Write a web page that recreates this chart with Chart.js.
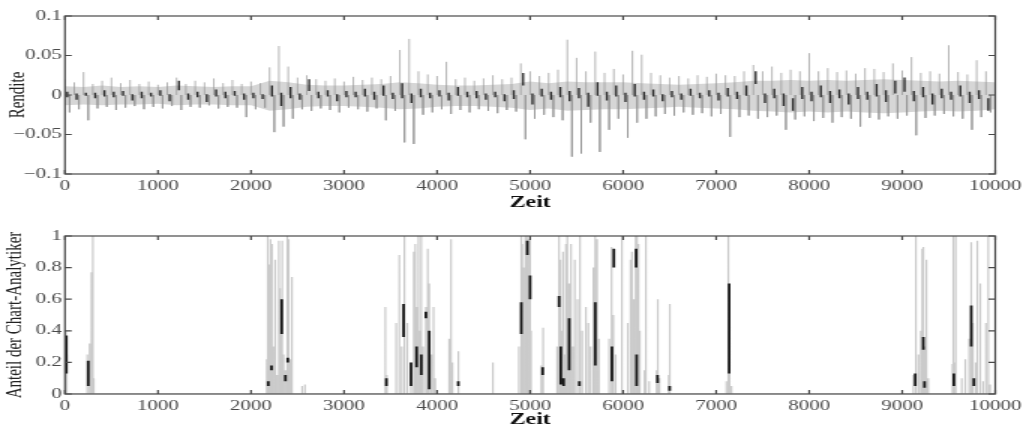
<!DOCTYPE html>
<html>
<head>
<meta charset="utf-8">
<script src="https://cdn.jsdelivr.net/npm/chart.js@4.4.0/dist/chart.umd.min.js"></script>
<style>
  html, body { margin: 0; padding: 0; background: #fff; overflow: hidden; width: 1027px; height: 429px; }
  .wrap { position: absolute; left: 0; transform: scale(1.5, 1); transform-origin: 0 0; }
</style>
</head>
<body>
<div class="wrap" style="top:0"><canvas id="renditeChart" width="685" height="215"></canvas></div>
<div class="wrap" style="top:220px"><canvas id="anteilChart" width="685" height="212"></canvas></div>
<script>
// Rendite: upper / lower envelope per 100 time steps
const renditeHi = [
  0.020, 0.016, 0.029, 0.014, 0.018, 0.022, 0.015, 0.019, 0.014, 0.017,
  0.013, 0.016, 0.022, 0.014, 0.018, 0.016, 0.021, 0.015, 0.019, 0.014,
  0.017, 0.015, 0.035, 0.062, 0.036, 0.022, 0.025, 0.020, 0.018, 0.021,
  0.017, 0.023, 0.019, 0.022, 0.020, 0.024, 0.057, 0.071, 0.030, 0.026,
  0.024, 0.042, 0.020, 0.022, 0.018, 0.021, 0.025, 0.020, 0.022, 0.040,
  0.030, 0.024, 0.028, 0.032, 0.070, 0.047, 0.030, 0.055, 0.028, 0.033,
  0.026, 0.056, 0.051, 0.028, 0.025, 0.022, 0.024, 0.021, 0.025, 0.023,
  0.027, 0.025, 0.024, 0.030, 0.038, 0.030, 0.036, 0.028, 0.032, 0.030,
  0.053, 0.030, 0.034, 0.029, 0.031, 0.027, 0.034, 0.033, 0.029, 0.040,
  0.031, 0.048, 0.028, 0.030, 0.027, 0.063, 0.029, 0.026, 0.044, 0.030
];
const renditeLo = [
  -0.022, -0.018, -0.032, -0.017, -0.015, -0.019, -0.016, -0.014, -0.018, -0.015,
  -0.017, -0.014, -0.019, -0.015, -0.016, -0.013, -0.017, -0.015, -0.016, -0.028,
  -0.018, -0.016, -0.047, -0.040, -0.030, -0.018, -0.020, -0.017, -0.019, -0.022,
  -0.016, -0.018, -0.021, -0.017, -0.032, -0.020, -0.060, -0.062, -0.025, -0.022,
  -0.018, -0.024, -0.019, -0.022, -0.018, -0.020, -0.023, -0.019, -0.021, -0.056,
  -0.030, -0.025, -0.028, -0.032, -0.078, -0.074, -0.035, -0.072, -0.044, -0.030,
  -0.054, -0.035, -0.030, -0.027, -0.024, -0.026, -0.022, -0.025, -0.023, -0.027,
  -0.024, -0.053, -0.028, -0.026, -0.030, -0.028, -0.026, -0.044, -0.031, -0.027,
  -0.033, -0.029, -0.035, -0.028, -0.030, -0.040, -0.029, -0.031, -0.027, -0.030,
  -0.026, -0.051, -0.029, -0.026, -0.024, -0.027, -0.030, -0.044, -0.028, -0.022
];
// dense light-grey band, every 200 steps from 0 to 10000
const bandHi = [
  0.011, 0.010, 0.012, 0.010, 0.011, 0.010, 0.012, 0.011, 0.010, 0.011,
  0.011, 0.018, 0.016, 0.013, 0.012, 0.012, 0.013, 0.014, 0.016, 0.015,
  0.013, 0.012, 0.012, 0.013, 0.014, 0.017, 0.015, 0.017, 0.016, 0.016,
  0.016, 0.015, 0.014, 0.013, 0.014, 0.015, 0.016, 0.018, 0.018, 0.019,
  0.018, 0.019, 0.018, 0.019, 0.020, 0.019, 0.018, 0.017, 0.018, 0.017, 0.016
];
const bandLo = [
  -0.013, -0.012, -0.013, -0.012, -0.012, -0.011, -0.013, -0.012, -0.012, -0.013,
  -0.013, -0.020, -0.018, -0.015, -0.014, -0.014, -0.015, -0.016, -0.018, -0.017,
  -0.015, -0.014, -0.014, -0.015, -0.016, -0.019, -0.017, -0.020, -0.019, -0.018,
  -0.018, -0.017, -0.016, -0.015, -0.016, -0.017, -0.018, -0.020, -0.021, -0.022,
  -0.021, -0.022, -0.021, -0.022, -0.023, -0.022, -0.021, -0.020, -0.021, -0.020, -0.018
];
// darker core of the return series: one dark stroke per 100 steps, from coreA to coreB
const coreA = [
  0.004, -0.006, 0.003, -0.004, 0.006, -0.003, 0.005, -0.007, 0.004, -0.002,
  0.006, -0.008, 0.018, -0.006, 0.004, -0.009, 0.007, -0.004, 0.005, -0.006,
  0.003, -0.005, 0.012, -0.014, 0.010, -0.006, 0.020, -0.004, 0.006, -0.008,
  0.005, -0.003, 0.008, -0.006, 0.012, -0.005, 0.015, -0.010, 0.008, -0.004,
  0.006, -0.007, 0.010, -0.003, 0.005, -0.006, 0.004, -0.008, 0.006, 0.028,
  -0.012, 0.008, -0.006, 0.010, -0.008, 0.009, -0.015, 0.016, -0.007, 0.012,
  -0.009, 0.014, -0.006, 0.007, -0.008, 0.005, -0.006, 0.008, -0.004, 0.006,
  -0.007, 0.009, -0.005, 0.012, 0.030, -0.010, 0.008, -0.014, -0.020, 0.010,
  -0.008, 0.012, -0.010, 0.007, -0.012, 0.010, -0.006, 0.014, -0.009, 0.018,
  0.022, -0.008, 0.010, -0.012, 0.008, -0.006, 0.012, -0.010, 0.006, -0.020
];
const coreB = [
  -0.003, 0.002, -0.001, 0.003, -0.002, 0.004, -0.001, 0.001, -0.004, 0.003,
  -0.001, 0.001, 0.006, 0.002, -0.003, 0.001, -0.002, 0.004, -0.001, 0.002,
  -0.004, 0.001, -0.002, 0.003, -0.004, 0.002, 0.005, 0.004, -0.002, 0.001,
  -0.003, 0.004, -0.002, 0.004, -0.001, 0.003, -0.004, 0.002, -0.003, 0.003,
  -0.002, 0.003, -0.001, 0.004, -0.004, 0.002, -0.003, 0.001, -0.005, 0.012,
  0.002, -0.002, 0.004, -0.003, 0.005, -0.004, 0.003, -0.001, 0.004, -0.002,
  0.003, -0.002, 0.004, -0.002, 0.001, -0.003, 0.002, -0.001, 0.003, -0.002,
  0.003, -0.002, 0.004, -0.001, 0.014, 0.002, -0.004, 0.002, -0.004, -0.005,
  0.004, -0.003, 0.005, -0.004, 0.002, -0.005, 0.004, -0.002, 0.006, 0.002,
  0.004, 0.005, -0.003, 0.002, -0.004, 0.004, -0.002, 0.004, -0.005, -0.004
];

// Anteil der Chart-Analytiker: spikes (time, height)
const spikeT = [
  10, 20, 240, 265, 285, 300, 310,
  2170, 2180, 2195, 2210, 2225, 2240, 2260, 2280, 2300, 2310, 2320, 2335, 2350, 2370, 2390, 2405, 2420, 2440, 2550, 2580,
  3444, 3460, 3560, 3594, 3620, 3640, 3655, 3680, 3720, 3750, 3766, 3780, 3800, 3815, 3830, 3850, 3880, 3900, 3916, 3940, 3962, 3980,
  4130, 4150, 4165, 4220, 4235, 4600,
  4880, 4905, 4915, 4930, 4950, 4965, 4980, 5000, 5010, 5120, 5140,
  5290, 5311, 5325, 5340, 5354, 5370, 5385, 5400, 5420, 5440, 5460, 5480, 5510, 5536, 5560, 5600, 5626, 5650, 5680, 5700, 5720, 5740,
  5850, 5870, 5880, 5895, 5920, 5987, 6050, 6080, 6095, 6115, 6135, 6150, 6165, 6180, 6230, 6245, 6280,
  6360, 6373, 6390, 6490, 6502,
  7110, 7125, 7135, 7145, 7165,
  9120, 9140, 9152, 9175, 9200, 9215, 9227, 9245, 9260, 9280,
  9540, 9549, 9560, 9575, 9640, 9678, 9720, 9742, 9760, 9790, 9807, 9839, 9870, 9900, 9925, 9945
];
const spikeH = [
  0.40, 0.25, 0.25, 0.32, 0.77, 1.00, 0.10,
  0.22, 1.00, 0.82, 0.98, 0.95, 0.30, 0.85, 0.12, 0.97, 0.67, 0.60, 0.97, 0.25, 0.15, 1.00, 0.98, 0.22, 0.74, 0.05, 0.06,
  0.55, 0.12, 0.45, 0.88, 0.30, 0.96, 1.00, 0.45, 0.20, 0.90, 0.95, 0.55, 1.00, 0.40, 1.00, 0.30, 0.55, 0.92, 0.70, 0.25, 0.55, 0.10,
  0.35, 0.98, 0.20, 0.27, 0.15, 0.20,
  0.30, 1.00, 0.95, 0.80, 1.00, 1.00, 0.98, 1.00, 0.40, 0.18, 0.42,
  0.30, 1.00, 0.85, 0.40, 0.90, 0.25, 0.95, 1.00, 0.70, 0.95, 0.30, 0.85, 0.60, 1.00, 0.40, 0.55, 0.45, 0.30, 0.80, 1.00, 0.98, 0.35,
  0.35, 0.75, 0.93, 0.50, 0.25, 1.00, 0.45, 0.85, 0.90, 0.60, 1.00, 1.00, 0.95, 0.40, 0.15, 1.00, 0.08,
  0.15, 0.60, 0.10, 0.12, 0.57,
  0.08, 0.95, 1.00, 0.55, 0.05,
  0.12, 0.78, 1.00, 0.25, 0.40, 0.92, 0.93, 0.30, 0.85, 0.10,
  0.19, 1.00, 0.20, 1.00, 0.10, 0.22, 0.35, 0.96, 0.45, 0.20, 0.97, 0.70, 0.08, 0.45, 1.00, 0.06
];
// dark (dense) segments inside the spikes: time, from, to
const darkT  = [15, 250, 2185, 2220, 2330, 2370, 2395, 3455, 3640, 3720, 3780, 3830, 3880, 3916, 4228, 4905, 4970, 5000, 5135, 5311, 5330, 5360, 5420, 5530, 5700, 5880, 5900, 6140, 6145, 6370, 6500, 7140, 9140, 9227, 9240, 9555, 9742, 9770];
const darkLo = [0.13, 0.05, 0.05, 0.15, 0.38, 0.08, 0.20, 0.05, 0.36, 0.05, 0.17, 0.12, 0.48, 0.03, 0.05, 0.38, 0.88, 0.60, 0.12, 0.55, 0.06, 0.05, 0.15, 0.05, 0.18, 0.08, 0.80, 0.80, 0.05, 0.07, 0.02, 0.13, 0.05, 0.28, 0.04, 0.05, 0.30, 0.05];
const darkHi = [0.37, 0.21, 0.08, 0.18, 0.60, 0.12, 0.23, 0.10, 0.57, 0.20, 0.30, 0.25, 0.52, 0.40, 0.08, 0.58, 0.97, 0.75, 0.17, 0.62, 0.30, 0.10, 0.48, 0.08, 0.58, 0.30, 0.92, 0.92, 0.25, 0.12, 0.05, 0.70, 0.13, 0.36, 0.08, 0.13, 0.56, 0.10];

const xTicksStep = 1000;
const renditeTicks = [-0.1, -0.05, 0, 0.05, 0.1];
const anteilTicks = [0, 0.2, 0.4, 0.6, 0.8, 1];

const serif = "'Liberation Serif', 'DejaVu Serif', serif";
const AXIS_LEFT = 43.3;   // 65px after the horizontal stretch
const AREA_BOTTOM = 174;

// build line points from the arrays
// envelope as vertical grey strokes out of the band (up at t, down at t+50)
const envelopePts = [];
renditeHi.forEach((v, i) => {
  envelopePts.push({ x: i * 100, y: 0 }, { x: i * 100, y: v }, { x: i * 100, y: null });
  envelopePts.push({ x: i * 100 + 50, y: 0 }, { x: i * 100 + 50, y: renditeLo[i] }, { x: i * 100 + 50, y: null });
});
const bandHiPts = bandHi.map((v, i) => ({ x: i * 200, y: v }));
const bandLoPts = bandLo.map((v, i) => ({ x: i * 200, y: v }));
const corePts = [];
coreA.forEach((v, i) => {
  const t = i * 100 + 25;
  corePts.push({ x: t, y: v }, { x: t, y: coreB[i] }, { x: t, y: null });
});

const spikePts = [{ x: 0, y: 0 }];
spikeT.forEach((t, i) => {
  spikePts.push({ x: t, y: 0 }, { x: t, y: spikeH[i] }, { x: t, y: 0 });
});
spikePts.push({ x: 10000, y: 0 });
const darkPts = [];
darkT.forEach((t, i) => {
  darkPts.push({ x: t, y: darkLo[i] }, { x: t, y: darkHi[i] }, { x: t, y: null });
});

const fmt = v => (Math.round(v * 100) / 100).toString().replace('-', '\u2212');

const framePlugin = {
  id: 'frame',
  afterDatasetsDraw(chart) {
    const { ctx, chartArea: a, scales: { x, y } } = chart;
    ctx.save();
    ctx.strokeStyle = '#4a4a4a';
    ctx.lineWidth = 1.2;
    ctx.strokeRect(a.left, a.top, a.right - a.left, a.bottom - a.top);
    ctx.beginPath();
    x.ticks.forEach(t => {
      const p = x.getPixelForValue(t.value);
      ctx.moveTo(p, a.top); ctx.lineTo(p, a.top + 4);
      ctx.moveTo(p, a.bottom); ctx.lineTo(p, a.bottom - 4);
    });
    y.ticks.forEach(t => {
      const p = y.getPixelForValue(t.value);
      ctx.moveTo(a.left, p); ctx.lineTo(a.left + 4.5, p);
      ctx.moveTo(a.right, p); ctx.lineTo(a.right - 4.5, p);
    });
    ctx.stroke();
    ctx.restore();
  }
};

const makeOptions = (canvasHeight, yTicks, yTitle, titlePad) => ({
  responsive: false,
  animation: false,
  layout: { padding: { top: 16, right: 20.3, left: 0, bottom: 0 } },
  plugins: { legend: { display: false }, tooltip: { enabled: false } },
  elements: { point: { radius: 0 }, line: { tension: 0 } },
  scales: {
    x: {
      type: 'linear', min: 0, max: 10000,
      grid: { display: false, drawTicks: false },
      border: { display: false },
      ticks: {
        stepSize: xTicksStep, autoSkip: false, maxRotation: 0, padding: 4,
        color: '#4a4a4a', font: { family: serif, size: 14 },
        callback: v => String(v)
      },
      title: {
        display: true, text: 'Zeit', color: '#111',
        font: { family: serif, size: 16, weight: 'bold' },
        padding: { top: 0, bottom: 3 }
      },
      afterFit: s => { s.height = canvasHeight - AREA_BOTTOM; }
    },
    y: {
      min: yTicks[0], max: yTicks[yTicks.length - 1],
      grid: { display: false, drawTicks: false },
      border: { display: false },
      afterBuildTicks: s => { s.ticks = yTicks.map(v => ({ value: v })); },
      ticks: {
        padding: 2, color: '#4a4a4a', font: { family: serif, size: 14 },
        callback: v => fmt(v)
      },
      title: {
        display: true, text: yTitle, color: '#222',
        font: { family: serif, size: 15 },
        padding: { top: titlePad, bottom: 0 }
      },
      afterFit: s => { s.width = AXIS_LEFT; }
    }
  }
});

new Chart(document.getElementById('renditeChart'), {
  type: 'line',
  data: {
    datasets: [
      { data: corePts, borderColor: 'rgba(15,15,15,0.85)', borderWidth: 1.4, spanGaps: false, order: 1 },
      { data: envelopePts, borderColor: 'rgba(150,150,150,0.7)', borderWidth: 1, spanGaps: false, order: 2 },
      { data: bandHiPts, borderWidth: 0, borderColor: 'rgba(0,0,0,0)', fill: '+1', backgroundColor: '#d6d6d6', order: 3 },
      { data: bandLoPts, borderWidth: 0, borderColor: 'rgba(0,0,0,0)', order: 4 }
    ]
  },
  options: makeOptions(215, renditeTicks, 'Rendite', 3),
  plugins: [framePlugin]
});

new Chart(document.getElementById('anteilChart'), {
  type: 'line',
  data: {
    datasets: [
      { data: darkPts, borderColor: '#151515', borderWidth: 1.8, spanGaps: false, order: 1 },
      { data: spikePts, borderColor: 'rgba(150,150,150,0.5)', borderWidth: 1.2, order: 2 }
    ]
  },
  options: makeOptions(212, anteilTicks, 'Anteil der Chart-Analytiker', 1),
  plugins: [framePlugin]
});
</script>
</body>
</html>
